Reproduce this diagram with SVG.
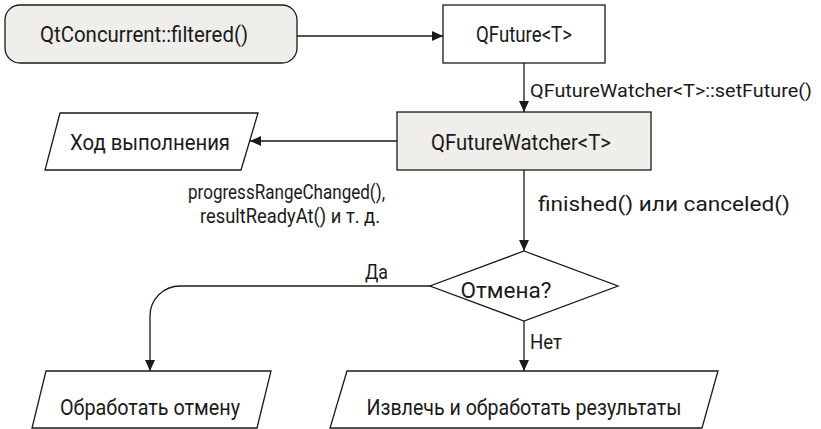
<svg xmlns="http://www.w3.org/2000/svg" width="821" height="429" viewBox="0 0 821 429">
<style>
.n{stroke:#1a1a1a;stroke-width:1.3;}
.g{fill:#efeeea;}
.w{fill:#ffffff;}
.c{fill:none;stroke:#1a1a1a;stroke-width:1.3;}
text{font-family:"Roboto","Liberation Sans",sans-serif;font-size:22px;fill:#1a1a1a;}
.s{font-size:21px;}
.t{font-size:19px;}
.m{text-anchor:middle;}
.e{text-anchor:end;}
</style>
<defs>
<marker id="a" markerWidth="12" markerHeight="10" refX="11" refY="5" orient="auto" markerUnits="userSpaceOnUse">
<path d="M0,0 L11,5 L0,10 Z" fill="#1a1a1a"/>
</marker>
</defs>
<g id="connectors">
<path class="c" d="M297,36 H443" marker-end="url(#a)"/>
<path class="c" d="M524,63 V112" marker-end="url(#a)"/>
<path class="c" d="M397,141 H250" marker-end="url(#a)"/>
<path class="c" d="M524,170 V251" marker-end="url(#a)"/>
<path class="c" d="M430,286 H180 A30,30 0 0 0 150,316 V371" marker-end="url(#a)"/>
<path class="c" d="M524,321 V371" marker-end="url(#a)"/>
<text x="530" y="97" class="t" textLength="282" lengthAdjust="spacingAndGlyphs">QFutureWatcher&lt;T&gt;::setFuture()</text>
<text x="385" y="199" class="e s" textLength="197" lengthAdjust="spacingAndGlyphs">progressRangeChanged(),</text>
<text x="380" y="223" class="e s" textLength="180" lengthAdjust="spacingAndGlyphs">resultReadyAt()  и т. д.</text>
<text x="538" y="211" class="s" textLength="252" lengthAdjust="spacingAndGlyphs">finished() или canceled()</text>
<text x="365" y="279" class="s" textLength="23" lengthAdjust="spacingAndGlyphs">Да</text>
<text x="530" y="349" class="s" textLength="32" lengthAdjust="spacingAndGlyphs">Нет</text>
</g>
<g id="filtered">
<rect class="n g" x="5" y="5" width="292" height="58" rx="15" ry="15"/>
<text x="144" y="42" class="m" textLength="208" lengthAdjust="spacingAndGlyphs">QtConcurrent::filtered()</text>
</g>
<g id="future">
<rect class="n w" x="443" y="5" width="162" height="58"/>
<text x="524" y="42" class="m" textLength="96" lengthAdjust="spacingAndGlyphs">QFuture&lt;T&gt;</text>
</g>
<g id="watcher">
<rect class="n g" x="397" y="112" width="254" height="58"/>
<text x="521" y="150" class="m" textLength="180" lengthAdjust="spacingAndGlyphs">QFutureWatcher&lt;T&gt;</text>
</g>
<g id="progress">
<polygon class="n w" points="60,113 258,113 241,170 45,170"/>
<text x="150" y="150" class="m" textLength="160" lengthAdjust="spacingAndGlyphs">Ход выполнения</text>
</g>
<g id="cancelQ">
<polygon class="n w" points="524,251 618,286 524,321 430,286"/>
<text x="506" y="298" class="m" textLength="91" lengthAdjust="spacingAndGlyphs">Отмена?</text>
</g>
<g id="handleCancel">
<polygon class="n w" points="46,371 271,371 257,428 32,428"/>
<text x="150" y="415" class="m" textLength="180" lengthAdjust="spacingAndGlyphs">Обработать отмену</text>
</g>
<g id="results">
<polygon class="n w" points="347,371 718,371 702,428 330,428"/>
<text x="524" y="415" class="m" textLength="315" lengthAdjust="spacingAndGlyphs">Извлечь и обработать результаты</text>
</g>
</svg>
